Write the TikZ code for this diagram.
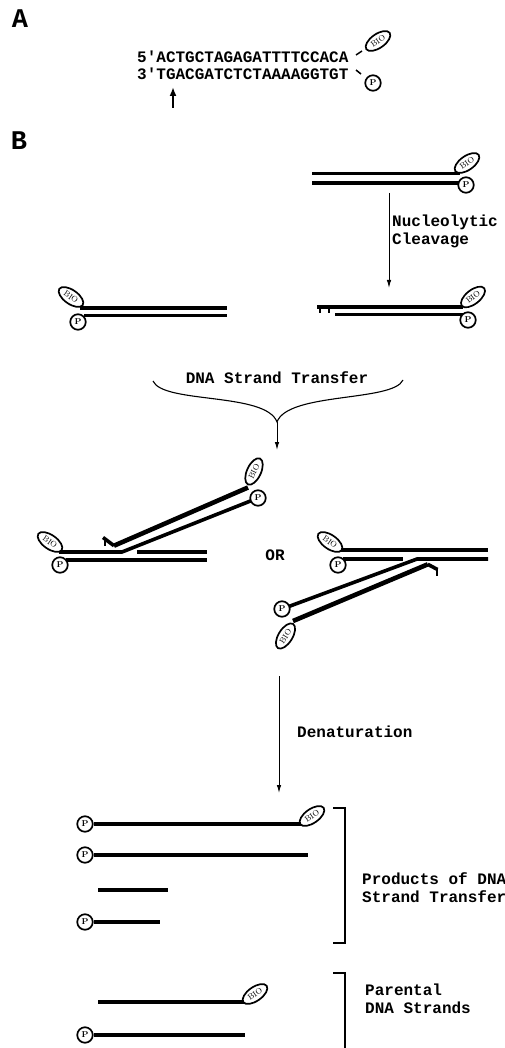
\documentclass[tikz,border=0pt]{standalone}
\usepackage{fontspec}
\newfontfamily\cour{Liberation Mono}
\usetikzlibrary{shapes.geometric,arrows.meta,backgrounds}
\begin{document}
\begin{tikzpicture}[x=1pt,y=-1pt,
  strand/.style={line width=3.6pt},
  thick strand/.style={line width=4.6pt},
  tickmark/.style={line width=2pt},
  pc/.style={circle,draw,fill=white,line width=1.7pt,minimum size=15.5pt,inner sep=0pt,font=\fontsize{8.5}{8.5}\selectfont\bfseries},
  bio/.style={ellipse,draw,fill=white,line width=1.7pt,minimum width=28.5pt,minimum height=14pt,inner sep=0pt,font=\fontsize{8}{8}\selectfont},
  lab/.style={font=\cour\bfseries\fontsize{16}{16}\selectfont,inner sep=0pt,anchor=west},
  panel/.style={font=\cour\bfseries\fontsize{27}{27}\selectfont,inner sep=0pt},
  arr/.style={line width=1pt,-{Latex[length=8pt,width=4.5pt]}},
  brk/.style={line width=1.2pt}]
\useasboundingbox (0,0) rectangle (505,1048);

% ---------- Panel A ----------
\node[panel] (A) at (20,19) {A};
\node[lab] (s1) at (137,57) {5\textquotesingle ACTGCTAGAGATTTTCCACA};
\node[lab] (s2) at (137,74) {3\textquotesingle TGACGATCTCTAAAAGGTGT};
\node[bio,rotate=35] (abio) at (378,41) {BIO};
\node[pc] (ap) at (373,83) {P};
\coordinate (d1a) at (356,55); \coordinate (d1b) at (362,51);
\coordinate (d2a) at (356,70); \coordinate (d2b) at (361,74);
\draw[line width=1.5pt] (d1a) -- (d1b);
\draw[line width=1.5pt] (d2a) -- (d2b);
\coordinate (cutb) at (173,108); \coordinate (cutt) at (173,87);
\draw[line width=2.2pt,-{Latex[length=9pt,width=7pt]}] (cutb) -- (cutt);

% ---------- Panel B ----------
\node[panel] (B) at (19,141) {B};

% top right duplex
\node[bio,rotate=35] (trb) at (467,163) {BIO};
\node[pc] (trp) at (466,185) {P};
\coordinate (tr1a) at (312,173.5); \coordinate (tr1b) at (460,173.5);
\coordinate (tr2a) at (312,183); \coordinate (tr2b) at (466,183);
\begin{scope}[on background layer]
\draw[strand] (tr1a) -- (tr1b);
\draw[strand] (tr2a) -- (tr2b);
\end{scope}

% nucleolytic cleavage arrow
\coordinate (nuA) at (389,193); \coordinate (nuB) at (389,288);
\draw[arr] (nuA) -- (nuB);
\node[lab] (nucl) at (392,222) {Nucleolytic};
\node[lab] (clv) at (392,240) {Cleavage};

% left middle duplex
\node[bio,rotate=-35] (lmb) at (71,297) {BIO};
\node[pc] (lmp) at (78,322) {P};
\coordinate (lm1a) at (80,308); \coordinate (lm1b) at (227,308);
\coordinate (lm2a) at (84,315.5); \coordinate (lm2b) at (227,315.5);
\begin{scope}[on background layer]
\draw[strand] (lm1a) -- (lm1b);
\draw[strand] (lm2a) -- (lm2b);
\end{scope}

% right middle duplex (cleaved)
\node[bio,rotate=38] (rmb) at (473,297) {BIO};
\node[pc] (rmp) at (468,320) {P};
\coordinate (rm1a) at (317,307); \coordinate (rm1b) at (463,307);
\coordinate (rm2a) at (335,314.5); \coordinate (rm2b) at (464,314.5);
\coordinate (t1a) at (320,307); \coordinate (t1b) at (320,313);
\coordinate (t2a) at (329,307); \coordinate (t2b) at (329,313);
\begin{scope}[on background layer]
\draw[strand] (rm1a) -- (rm1b);
\draw[strand] (rm2a) -- (rm2b);
\draw[tickmark] (t1a) -- (t1b);
\draw[tickmark] (t2a) -- (t2b);
\end{scope}

% DNA strand transfer brace
\node[font=\cour\bfseries\fontsize{16}{16}\selectfont,inner sep=0pt] (dst) at (277,378) {DNA Strand Transfer};
\coordinate (bl) at (153,381); \coordinate (bm) at (277,422);
\coordinate (br) at (403,380); \coordinate (bt) at (277,450);
\draw[line width=1.1pt] (bl) .. controls (163,404) and (266,392) .. (bm)
      .. controls (288,392) and (393,402) .. (br);
\draw[arr] (bm) -- (bt);

% left product
\node[bio,rotate=-35] (lpb1) at (50,542) {BIO};
\node[pc] (lpp1) at (60,565) {P};
\node[bio,rotate=65] (lpb2) at (254,471.5) {BIO};
\node[pc] (lpp2) at (258,498) {P};
\coordinate (lpa) at (59,552); \coordinate (lpbend) at (122,552);
\coordinate (lpc1) at (66,560); \coordinate (lpc2) at (207,560);
\coordinate (lps1) at (137,552); \coordinate (lps2) at (207,552);
\coordinate (lpu1) at (114,545.7); \coordinate (lpu2) at (248,487.5);
\coordinate (lpf) at (103,537.5);
\coordinate (lpt1) at (104.5,538); \coordinate (lpt2) at (104.5,546);
\begin{scope}[on background layer]
\draw[strand,line join=miter] (lpa) -- (lpbend) -- (lpp2.center);
\draw[strand] (lpc1) -- (lpc2);
\draw[strand] (lps1) -- (lps2);
\draw[thick strand] (lpu1) -- (lpu2);
\draw[line width=3.6pt] (lpu1) -- (lpf);
\draw[tickmark] (lpt1) -- (lpt2);
\end{scope}

\node[font=\cour\bfseries\fontsize{16}{16}\selectfont,inner sep=0pt] (or) at (275,555) {OR};

% right product
\node[bio,rotate=-35] (rpb1) at (330,542) {BIO};
\node[pc] (rpp1) at (338,565) {P};
\node[pc] (rpp2) at (282,609) {P};
\node[bio,rotate=58] (rpb2) at (285.5,636) {BIO};
\coordinate (rpa1) at (341,550); \coordinate (rpa2) at (488,550);
\coordinate (rpc1) at (343,559); \coordinate (rpc2) at (403,559);
\coordinate (rpe) at (488,559); \coordinate (rpbend) at (417,559);
\coordinate (rpl1) at (427.8,564.3); \coordinate (rpl2) at (293,621);
\coordinate (rpf) at (437.5,569.5);
\coordinate (rpt1) at (436.5,568); \coordinate (rpt2) at (436.5,576);
\begin{scope}[on background layer]
\draw[strand] (rpa1) -- (rpa2);
\draw[strand] (rpc1) -- (rpc2);
\draw[strand,line join=miter] (rpe) -- (rpbend) -- (rpp2.center);
\draw[thick strand] (rpl1) -- (rpl2);
\draw[line width=3.6pt] (rpl1) -- (rpf);
\draw[tickmark] (rpt1) -- (rpt2);
\end{scope}

% denaturation
\coordinate (deA) at (279,676); \coordinate (deB) at (279,793);
\draw[arr] (deA) -- (deB);
\node[lab] (den) at (297,732) {Denaturation};

% products list
\node[pc] (q1) at (85,824) {P};
\node[bio,rotate=35] (q1b) at (312,816) {BIO};
\coordinate (q1e) at (302,824);
\node[pc] (q2) at (85,855) {P};
\coordinate (q2e) at (308,855);
\coordinate (q3a) at (98,890); \coordinate (q3e) at (168,890);
\node[pc] (q4) at (85,922) {P};
\coordinate (q4e) at (160,922);
\begin{scope}[on background layer]
\draw[strand] (q1) -- (q1e);
\draw[strand] (q2) -- (q2e);
\draw[strand] (q3a) -- (q3e);
\draw[strand] (q4) -- (q4e);
\end{scope}
\coordinate (k1a) at (333,808); \coordinate (k1b) at (345,808);
\coordinate (k1c) at (345,943); \coordinate (k1d) at (333,943);
\draw[brk] (k1a) -- (k1b) -- (k1c) -- (k1d);
\node[lab] (prod1) at (362,879) {Products of DNA};
\node[lab] (prod2) at (362,897) {Strand Transfer};

% parental list
\coordinate (q5a) at (98,1002); \coordinate (q5e) at (244,1002);
\node[bio,rotate=35] (q5b) at (255,994) {BIO};
\node[pc] (q6) at (85,1035) {P};
\coordinate (q6e) at (245,1035);
\begin{scope}[on background layer]
\draw[strand] (q5a) -- (q5e);
\draw[strand] (q6) -- (q6e);
\end{scope}
\coordinate (k2a) at (333,973); \coordinate (k2b) at (345,973);
\coordinate (k2c) at (345,1048);
\draw[brk] (k2a) -- (k2b) -- (k2c);
\node[lab] (par1) at (365,990) {Parental};
\node[lab] (par2) at (365,1008) {DNA Strands};
\end{tikzpicture}
\end{document}
